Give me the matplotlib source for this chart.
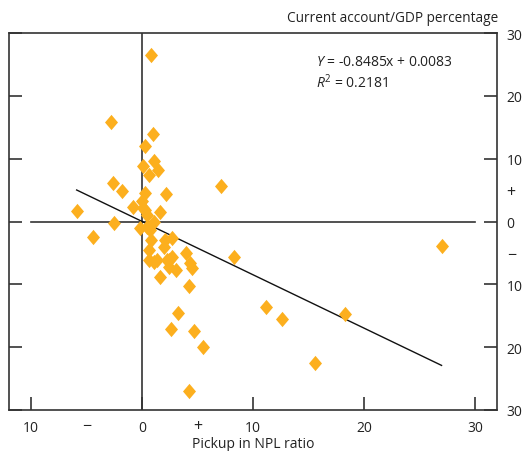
import matplotlib
matplotlib.use("Agg")
import matplotlib.pyplot as plt
import numpy as np

plt.rcParams['font.family'] = ['Open Sans', 'DejaVu Sans']
plt.rcParams['mathtext.fontset'] = 'custom'
plt.rcParams['mathtext.rm'] = 'Open Sans'
plt.rcParams['mathtext.it'] = 'Open Sans:italic'

npl_pickup = [0.84, -2.8, 1.0, 0.3, 1.1, 0.05, 1.4, 0.66, -2.6, -1.8, 7.15, 2.2,
              0.24, 0.0, 0.1, -0.8, -5.9, 1.6, -2.5, -4.4, -0.15, 0.45, 1.05, 0.75,
              0.3, 0.45, 0.77, 2.1, 2.7, 0.6, 1.95, 4.0, 0.6, 1.05, 2.4, 2.7, 2.4,
              3.1, 4.35, 4.5, 1.6, 4.2, 8.3, 27.0, 3.2, 2.57, 4.7, 5.45, 4.2, 11.2,
              12.6, 18.3, 15.6, 1.35, 2.25]
ca_gdp = [26.5, 15.9, 13.9, 12.0, 9.6, 8.9, 8.2, 7.4, 6.2, 4.8, 5.7, 4.4,
          4.5, 3.2, 2.2, 2.3, 1.75, 1.5, -0.25, -2.5, -1.05, -0.8, 0.0, -1.3,
          1.9, 1.1, -2.9, -2.9, -2.6, -4.5, -4.1, -5.0, -6.1, -6.4, -6.1, -5.6, -7.2,
          -7.7, -6.6, -7.4, -8.8, -10.2, -5.6, -3.9, -14.6, -17.1, -17.4, -19.9, -27.0, -13.6,
          -15.5, -14.8, -22.5, -6.1, -6.1]

slope, intercept = -0.8485, 0.0083
fit_x = [-5.9, 27.0]

x_major = [-10, 0, 10, 20, 30]
x_labels = ['10', '0', '10', '20', '30']
x_minor = [-5, 5]
x_minor_labels = ['\u2212', '+']
y_major = [-30, -20, -10, 0, 10, 20, 30]
y_labels = ['30', '20', '10', '0', '10', '20', '30']
y_minor = [-5, 5]
y_minor_labels = ['\u2212', '+']

orange = '#FCAF1E'
dark = '#333333'
txt = '#222222'

fig = plt.figure(figsize=(5.25, 4.52), dpi=100)
ax = fig.add_axes([9/525, 41/452, 488/525, 377/452])
ax.set_xlim(-12, 32)
ax.set_ylim(-30, 30)

ax.axvline(0, color=dark, lw=1.2, zorder=1)
ax.plot([-10, 30], [0, 0], color=dark, lw=1.2, zorder=1)

fx = np.array(fit_x)
ax.plot(fx, slope * fx + intercept, color='#111111', lw=1.0, zorder=2)

diamond = [(0, 1), (0.85, 0), (0, -1), (-0.85, 0), (0, 1)]
ax.plot(npl_pickup, ca_gdp, linestyle='none', marker=diamond, markersize=11,
        color=orange, markeredgewidth=0, zorder=3)

for s in ax.spines.values():
    s.set_color(dark)
    s.set_linewidth(1.2)

ax.set_xticks(x_major)
ax.set_xticklabels(x_labels)
ax.set_xticks(x_minor, minor=True)
ax.set_xticklabels(x_minor_labels, minor=True)
ax.set_yticks(y_major)
ax.set_yticklabels(y_labels)
ax.set_yticks(y_minor, minor=True)
ax.set_yticklabels(y_minor_labels, minor=True)

ax.tick_params(axis='x', which='major', direction='in', length=9.5, width=1.2,
               color=dark, labelsize=10, labelcolor=txt, pad=7)
ax.tick_params(axis='x', which='minor', length=0, labelsize=11.5, labelcolor=txt, pad=6)
ax.tick_params(axis='y', which='major', direction='in', length=9.5, width=1.2,
               color=dark, left=True, right=True, labelleft=False, labelright=True,
               labelsize=10, labelcolor=txt, pad=7)
ax.tick_params(axis='y', which='minor', length=0, left=False, right=True,
               labelleft=False, labelright=True, labelsize=11.5, labelcolor=txt, pad=7)

ax.set_xlabel('Pickup in NPL ratio', fontsize=10, color=txt, labelpad=1)
fig.text(498/525, 1 - 19/452, 'Current account/GDP percentage', ha='right', va='center',
         fontsize=9.8, color=txt)

ax.text(15.7, 25.4, r'$Y$ = -0.8485x + 0.0083', fontsize=10, color=txt,
        ha='left', va='center')
ax.text(15.7, 22.2, r'$R^2$ = 0.2181', fontsize=10, color=txt,
        ha='left', va='center')

fig.savefig('out.png', dpi=100)
